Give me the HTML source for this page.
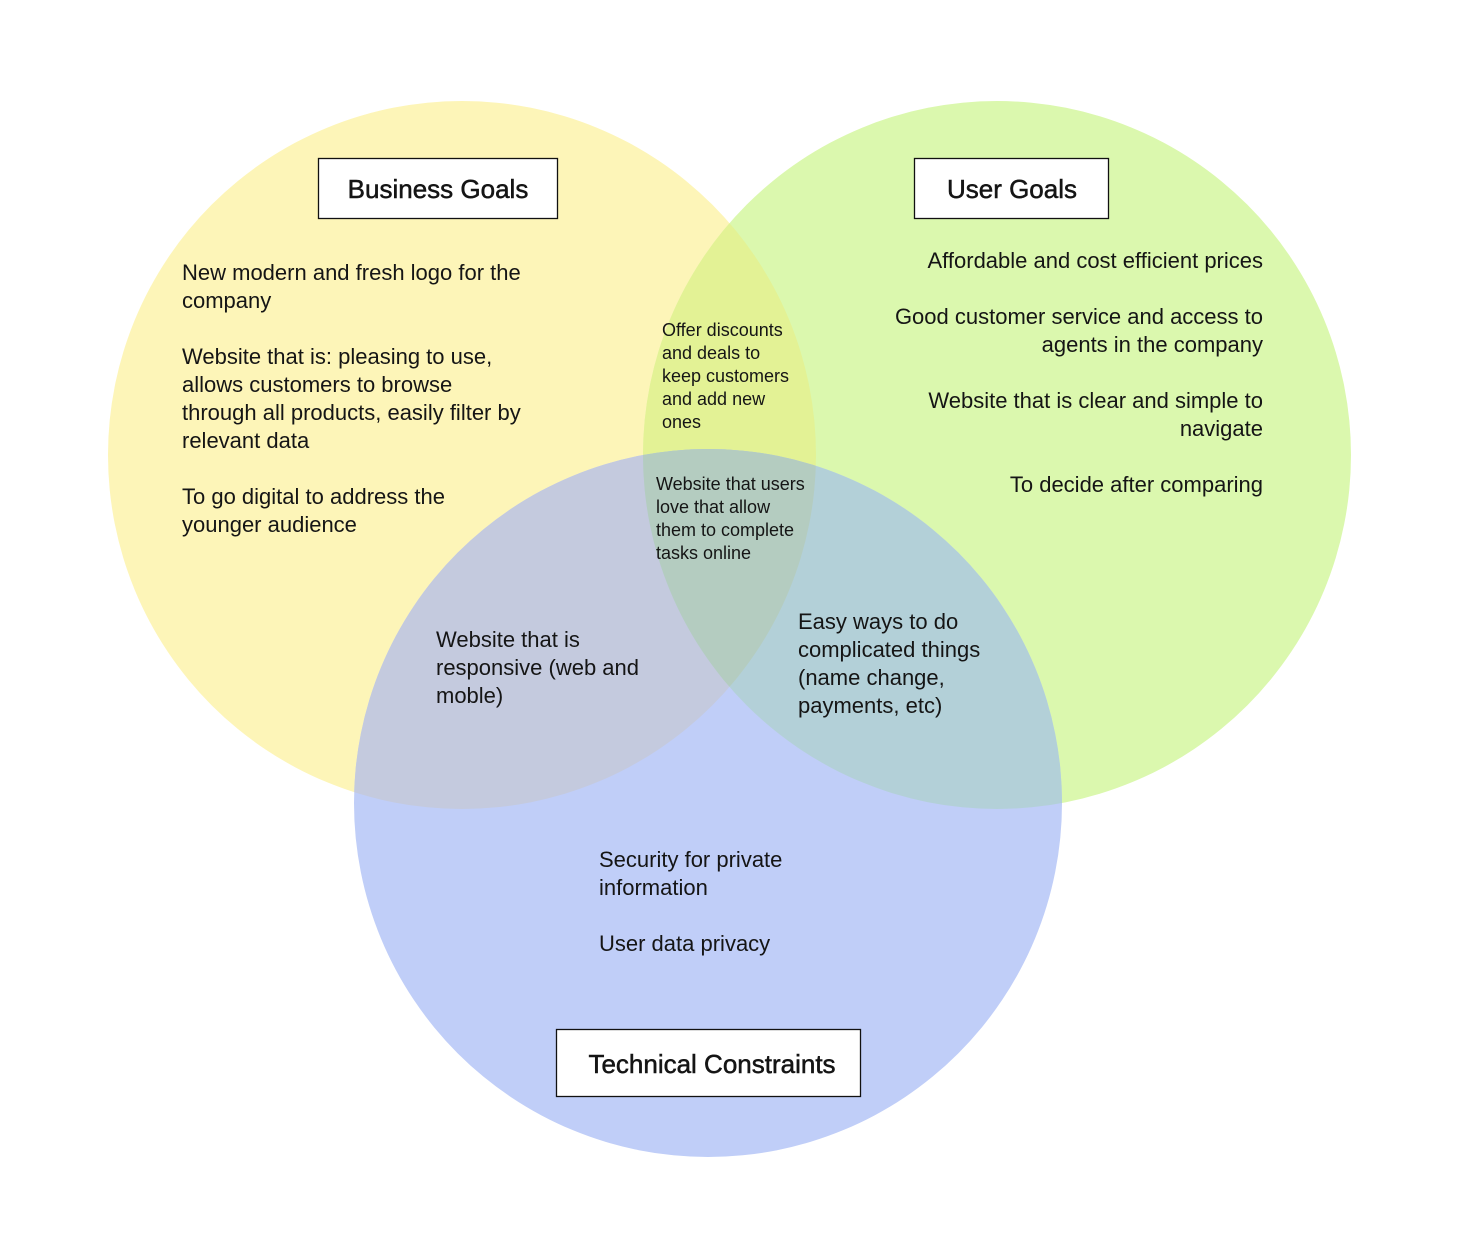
<!DOCTYPE html>
<html><head><meta charset="utf-8"><style>
html,body{margin:0;padding:0;background:#fff;}
svg{display:block;font-family:"Liberation Sans",sans-serif;}
text{fill:#151515;}
.b{font-size:22px;}
.s{font-size:18px;}
.t{font-size:26px;stroke:#111;stroke-width:0.5px;}
</style></head><body>
<svg width="1463" height="1237" viewBox="0 0 1463 1237" xmlns="http://www.w3.org/2000/svg">
<defs>
<clipPath id="cy"><circle cx="462" cy="455" r="354"/></clipPath>
<clipPath id="cg"><circle cx="997" cy="455" r="354"/></clipPath>
<clipPath id="cb"><circle cx="708" cy="803" r="354"/></clipPath>
</defs>
<rect width="1463" height="1237" fill="#fff"/>
<circle cx="462" cy="455" r="354" fill="#fdf5b8"/>
<circle cx="997" cy="455" r="354" fill="#dbf8ae"/>
<circle cx="708" cy="803" r="354" fill="#c0cef8"/>
<g clip-path="url(#cy)"><circle cx="997" cy="455" r="354" fill="#e3f295"/><circle cx="708" cy="803" r="354" fill="#c4cade"/></g>
<g clip-path="url(#cg)"><circle cx="708" cy="803" r="354" fill="#b3d0d8"/></g>
<g clip-path="url(#cy)"><g clip-path="url(#cg)"><circle cx="708" cy="803" r="354" fill="#b4ccc0"/></g></g>

<rect x="318.5" y="158.5" width="239" height="60" fill="#fff" stroke="#111" stroke-width="1.3"/>
<text class="t" x="438" y="198" text-anchor="middle">Business Goals</text>
<rect x="914.5" y="158.5" width="194" height="60" fill="#fff" stroke="#111" stroke-width="1.3"/>
<text class="t" x="1012" y="198" text-anchor="middle">User Goals</text>
<rect x="556.5" y="1029.5" width="304" height="67" fill="#fff" stroke="#111" stroke-width="1.3"/>
<text class="t" x="712" y="1073" text-anchor="middle">Technical Constraints</text>

<g class="b">
<text x="182" y="280">New modern and fresh logo for the</text>
<text x="182" y="308">company</text>
<text x="182" y="364">Website that is: pleasing to use,</text>
<text x="182" y="392">allows customers to browse</text>
<text x="182" y="420">through all products, easily filter by</text>
<text x="182" y="448">relevant data</text>
<text x="182" y="504">To go digital to address the</text>
<text x="182" y="532">younger audience</text>
</g>
<g class="b" text-anchor="end">
<text x="1263" y="268">Affordable and cost efficient prices</text>
<text x="1263" y="324">Good customer service and access to</text>
<text x="1263" y="352">agents in the company</text>
<text x="1263" y="408">Website that is clear and simple to</text>
<text x="1263" y="436">navigate</text>
<text x="1263" y="492">To decide after comparing</text>
</g>
<g class="s">
<text x="662" y="336">Offer discounts</text>
<text x="662" y="359">and deals to</text>
<text x="662" y="382">keep customers</text>
<text x="662" y="405">and add new</text>
<text x="662" y="428">ones</text>
<text x="656" y="490">Website that users</text>
<text x="656" y="513">love that allow</text>
<text x="656" y="536">them to complete</text>
<text x="656" y="559">tasks online</text>
</g>
<g class="b">
<text x="436" y="647">Website that is</text>
<text x="436" y="675">responsive (web and</text>
<text x="436" y="703">moble)</text>
<text x="798" y="629">Easy ways to do</text>
<text x="798" y="657">complicated things</text>
<text x="798" y="685">(name change,</text>
<text x="798" y="713">payments, etc)</text>
<text x="599" y="867">Security for private</text>
<text x="599" y="895">information</text>
<text x="599" y="951">User data privacy</text>
</g>
</svg>
</body></html>
